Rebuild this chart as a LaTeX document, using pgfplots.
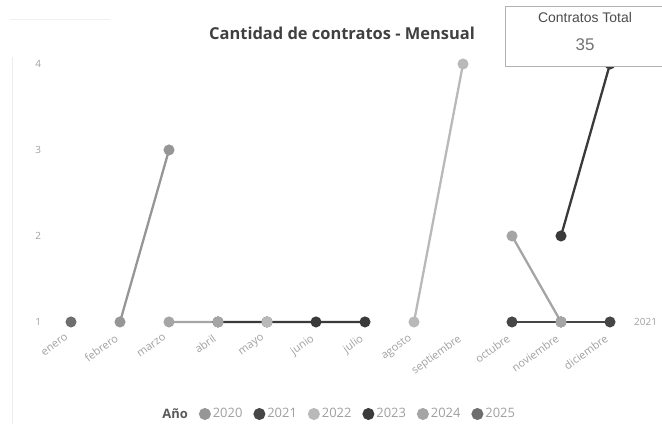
\documentclass[border=0pt]{standalone}
\usepackage{fontspec}
\setmainfont{Open Sans}
\newfontfamily\cardfont{Liberation Sans}
\usepackage{pgfplots}
\pgfplotsset{compat=1.18}

\definecolor{c2020}{RGB}{150,150,150}
\definecolor{c2021}{RGB}{70,70,70}
\definecolor{c2022}{RGB}{185,185,185}
\definecolor{c2023}{RGB}{58,58,58}
\definecolor{c2024}{RGB}{165,165,165}
\definecolor{c2025}{RGB}{110,110,110}
\definecolor{tick}{RGB}{160,160,160}

\begin{document}
\begin{tikzpicture}
\useasboundingbox (0,0) rectangle (662bp,432bp);
% faint frame of the visual
\draw[gray!15, line width=1bp] (12bp,8bp) -- (12bp,375bp);
\draw[gray!12, line width=1bp] (10bp,412bp) -- (110bp,412bp);

\begin{axis}[
  at={(46.5bp,106.6bp)}, anchor=south west,
  scale only axis, width=588bp, height=278.6bp,
  xmin=-0.5, xmax=11.5, ymin=0.96, ymax=4.2,
  axis line style={draw=none}, tick style={draw=none},
  clip=false,
  unbounded coords=jump,
  xtick={0,...,11},
  xticklabels={enero,febrero,marzo,abril,mayo,junio,julio,agosto,septiembre,octubre,noviembre,diciembre},
  xticklabel style={xshift=-6bp, yshift=-8bp, rotate=36, anchor=north east,
    font=\fontsize{11}{12}\selectfont, text=tick, inner sep=0pt},
  ytick={1,2,3,4},
  yticklabel style={font=\fontsize{10}{11}\selectfont, text=tick, xshift=-2bp},
  /pgf/number format/assume math mode=true,
  every axis plot/.append style={line width=2.3bp, mark=*, mark size=4.3bp},
  legend columns=-1,
  legend style={at={(axis description cs:0.497,-0.318)}, anchor=center, draw=none,
    font=\fontsize{13}{14}\selectfont, text=tick,
    /tikz/every even column/.append style={column sep=9bp}},
  legend image code/.code={\fill[#1] (0.15cm,0) circle (4.8bp);},
]
\addlegendimage{empty legend}\addlegendentry{\textcolor{black!65}{\textbf{Año}}}
\addlegendimage{c2020}\addlegendentry{2020}
\addlegendimage{c2021}\addlegendentry{2021}
\addlegendimage{c2022}\addlegendentry{2022}
\addlegendimage{c2023}\addlegendentry{2023}
\addlegendimage{c2024}\addlegendentry{2024}
\addlegendimage{c2025}\addlegendentry{2025}

% 2025
\addplot[c2025, forget plot] coordinates {(0,1)};
% 2020
\addplot[c2020, forget plot] coordinates {(1,1)(2,3)};
% 2021
\addplot[c2021, forget plot] coordinates {(9,1)(10,1)(11,1)};
% 2023
\addplot[c2023, forget plot] coordinates {(3,1)(4,1)(5,1)(6,1)(7,nan)(8,nan)(9,nan)(10,2)(11,4)};
% 2024
\addplot[c2024, forget plot] coordinates {(2,1)(3,1)(4,nan)(5,nan)(6,nan)(7,nan)(8,nan)(9,2)(10,1)};
% 2022
\addplot[c2022, forget plot] coordinates {(4,1)(5,nan)(6,nan)(7,1)(8,4)};

\node[anchor=west, text=tick, font=\fontsize{10}{11}\selectfont, inner sep=0pt] at (axis cs:11,1) [xshift=24bp] {2021};
\end{axis}

% title
\node[font=\fontsize{16.5}{18}\selectfont\bfseries, text=black!75] at (342bp,399bp) {Cantidad de contratos - Mensual};
% card
\draw[fill=white, draw=gray!60, line width=0.8bp] (505bp,366bp) rectangle (668bp,426bp);
\node[font=\cardfont\fontsize{14}{16}\selectfont, text=black!70] at (585bp,414bp) {Contratos Total};
\node[font=\cardfont\fontsize{17}{19}\selectfont, text=black!55] at (585bp,387bp) {35};
\end{tikzpicture}
\end{document}
